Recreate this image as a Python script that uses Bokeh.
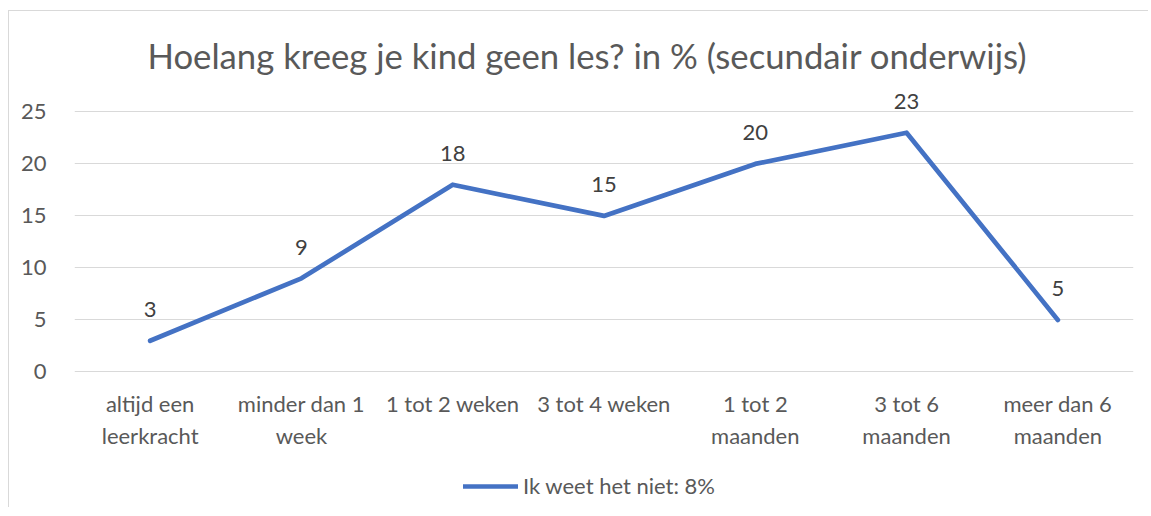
from bokeh.plotting import figure
from bokeh.models import Range1d, FixedTicker, Legend, LegendItem
from bokeh.embed import file_html
from bokeh.resources import INLINE

categories = ["altijd een leerkracht", "minder dan 1 week", "1 tot 2 weken", "3 tot 4 weken",
              "1 tot 2 maanden", "3 tot 6 maanden", "meer dan 6 maanden"]
tick_labels = ["altijd een\nleerkracht", "minder dan 1\nweek", "1 tot 2 weken", "3 tot 4 weken",
               "1 tot 2\nmaanden", "3 tot 6\nmaanden", "meer dan 6\nmaanden"]
values = [3, 9, 18, 15, 20, 23, 5]
y_ticks = [0, 5, 10, 15, 20, 25]
title_text = "Hoelang kreeg je kind geen les? in % (secundair onderwijs)"
legend_label = "Ik weet het niet: 8%"

FONT = "Lato"
GREY = "#595959"
BLUE = "#4472C4"

p = figure(x_range=categories, y_range=Range1d(-13.13, 28.5), width=1140, height=497,
           output_backend="svg", toolbar_location=None, x_axis_location=None,
           min_border_left=65, min_border_right=16, min_border_top=64, min_border_bottom=0)
p.margin = (10, 0, 0, 8)
p.styles = {"border-top": "1px solid #d9d9d9", "border-left": "1px solid #d9d9d9"}
p.outline_line_color = None

p.title.text = title_text
p.title.align = "left"
p.title.offset = 73
p.title.text_font = FONT
p.title.text_font_size = "34.7px"
p.title.text_font_style = "normal"
p.title.text_color = GREY
p.title.standoff = 0

p.xgrid.grid_line_color = None
p.ygrid.grid_line_color = "#d9d9d9"
p.ygrid.grid_line_width = 1
p.ygrid.ticker = FixedTicker(ticks=y_ticks)
p.yaxis.ticker = FixedTicker(ticks=y_ticks)

ax = p.yaxis[0]
ax.axis_line_color = None
ax.major_tick_line_color = None
ax.minor_tick_line_color = None
ax.major_label_text_font = FONT
ax.major_label_text_font_size = "22px"
ax.major_label_text_color = GREY
ax.major_label_standoff = 22

# category labels under the zero line
p.text(x=categories, y=[0] * len(categories), text=tick_labels, y_offset=18,
       text_align="center", text_baseline="top", text_font_size="22px",
       text_line_height=1.18, text_color=GREY, text_font={"value": FONT})

r = p.line(x=categories, y=values, line_width=4.7, line_color=BLUE,
           line_cap="round", line_join="round")

p.text(x=categories, y=values, text=[str(v) for v in values], y_offset=-31,
       text_align="center", text_baseline="middle", text_font_size="22px",
       text_color="#404040", text_font={"value": FONT})

legend = Legend(items=[LegendItem(label=legend_label, renderers=[r])],
                location=(389, 9), orientation="horizontal",
                glyph_width=55, glyph_height=20, label_standoff=5,
                padding=0, margin=0, border_line_color=None, background_fill_alpha=0,
                label_text_font=FONT, label_text_font_size="22px", label_text_color=GREY)
p.add_layout(legend, "center")

open("out.html", "w").write(file_html(p, INLINE))
